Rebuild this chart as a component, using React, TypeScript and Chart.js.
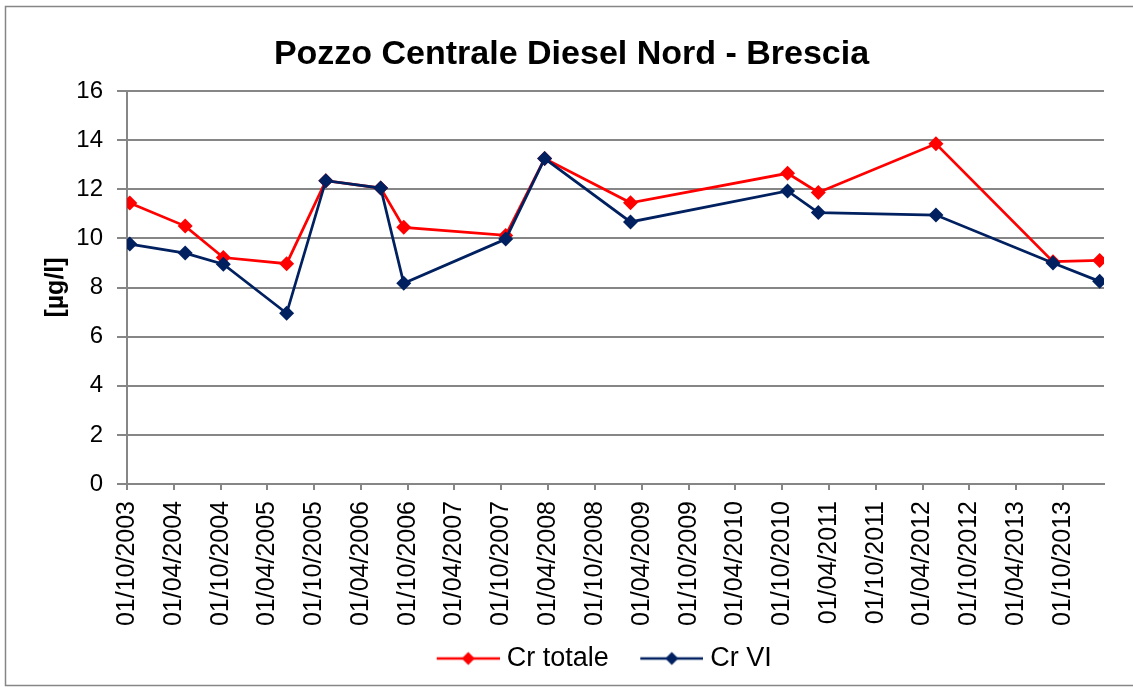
import React, { useEffect, useRef } from "react";
import { Chart, registerables } from "chart.js";

Chart.register(...registerables);

const TITLE = "Pozzo Centrale Diesel Nord - Brescia";
const Y_TITLE = "[µg/l]";

const SAMPLE_DATES = [
  "12/10/2003", "15/05/2004", "11/10/2004", "15/06/2005", "15/11/2005",
  "17/06/2006", "15/09/2006", "18/10/2007", "18/03/2008", "16/02/2009",
  "22/10/2010", "19/02/2011", "23/05/2012", "23/08/2013", "21/02/2014",
];
const CR_TOTALE = [11.44, 10.5, 9.22, 8.97, 12.35, 12.05, 10.45, 10.12, 13.25, 11.45, 12.65, 11.87, 13.85, 9.05, 9.1];
const CR_VI = [9.77, 9.4, 8.95, 6.95, 12.35, 12.05, 8.17, 9.97, 13.25, 10.67, 11.93, 11.05, 10.95, 9.0, 8.25];

const TICK_LABELS = [
  "01/10/2003", "01/04/2004", "01/10/2004", "01/04/2005", "01/10/2005",
  "01/04/2006", "01/10/2006", "01/04/2007", "01/10/2007", "01/04/2008",
  "01/10/2008", "01/04/2009", "01/10/2009", "01/04/2010", "01/10/2010",
  "01/04/2011", "01/10/2011", "01/04/2012", "01/10/2012", "01/04/2013",
  "01/10/2013",
];
const AXIS_START = "01/10/2003";
const AXIS_END = "10/03/2014";

const SERIES_NAMES = ["Cr totale", "Cr VI"];
const SERIES_COLORS = ["#FF0000", "#002060"];

function toDays(s: string): number {
  const [d, m, y] = s.split("/").map(Number);
  const [d0, m0, y0] = AXIS_START.split("/").map(Number);
  return (Date.UTC(y, m - 1, d) - Date.UTC(y0, m0 - 1, d0)) / 86400000;
}

// legend symbol: line with a diamond marker; transparent margin on the left
function legendImage(color: string): HTMLCanvasElement {
  const c = document.createElement("canvas");
  c.width = 85;
  c.height = 16;
  const ctx = c.getContext("2d")!;
  const x0 = 22;
  ctx.strokeStyle = color;
  ctx.lineWidth = 2.5;
  ctx.beginPath();
  ctx.moveTo(x0, 8);
  ctx.lineTo(85, 8);
  ctx.stroke();
  ctx.fillStyle = color;
  const cx = x0 + 31.5;
  ctx.beginPath();
  ctx.moveTo(cx, 1.5);
  ctx.lineTo(cx + 6.5, 8);
  ctx.lineTo(cx, 14.5);
  ctx.lineTo(cx - 6.5, 8);
  ctx.closePath();
  ctx.fill();
  return c;
}

const borderPlugin = {
  id: "outerBorder",
  beforeDraw(chart: any) {
    const ctx = chart.ctx;
    ctx.save();
    ctx.fillStyle = "#ffffff";
    ctx.fillRect(0, 0, chart.width, chart.height);
    ctx.strokeStyle = "#868686";
    ctx.lineWidth = 1.5;
    ctx.strokeRect(5.5, 6.5, chart.width + 10, 679);
    ctx.restore();
  },
};

const shiftPlugin = {
  id: "shiftBlocks",
  afterLayout(chart: any) {
    if (chart.titleBlock) {
      chart.titleBlock.left += 19.5;
      chart.titleBlock.right += 19.5;
    }
    if (chart.legend) {
      chart.legend.left -= 19;
      chart.legend.right -= 19;
    }
  },
};

export default function App() {
  const ref = useRef<HTMLCanvasElement>(null);

  useEffect(() => {
    if (!ref.current) return;
    const FONT = "'Liberation Sans', Arial, sans-serif";
    Chart.defaults.font.family = FONT;
    Chart.defaults.color = "#000000";
    const seriesValues = [CR_TOTALE, CR_VI];
    const images = SERIES_COLORS.map(legendImage);
    const tickDays = TICK_LABELS.map(toDays);

    const chart = new Chart(ref.current, {
      type: "line",
      data: {
        datasets: SERIES_NAMES.map((name, i) => ({
          label: name,
          data: SAMPLE_DATES.map((d, j) => ({ x: toDays(d), y: seriesValues[i][j] })),
          borderColor: SERIES_COLORS[i],
          backgroundColor: SERIES_COLORS[i],
          borderWidth: 2.75,
          tension: 0,
          pointStyle: "rectRot",
          pointRadius: 7.5,
          pointBorderWidth: 0,
          pointBackgroundColor: SERIES_COLORS[i],
          order: -i,
        })),
      },
      options: {
        responsive: false,
        animation: false,
        layout: { padding: { top: 20, left: 0, right: 29, bottom: 5 } },
        plugins: {
          tooltip: { enabled: false },
          title: {
            display: true,
            text: TITLE,
            font: { size: 34, weight: "bold", family: FONT },
            color: "#000000",
            padding: { top: 14, bottom: 16.2 },
          },
          legend: {
            display: true,
            position: "bottom",
            fullSize: false,
            labels: {
              font: { size: 27, family: FONT },
              color: "#000000",
              usePointStyle: true,
              pointStyleWidth: 72,
              padding: 16,
              generateLabels: () =>
                SERIES_NAMES.map((name, i) => ({
                  text: name,
                  fillStyle: SERIES_COLORS[i],
                  strokeStyle: SERIES_COLORS[i],
                  lineWidth: 0,
                  pointStyle: images[i] as any,
                  hidden: false,
                  datasetIndex: i,
                })),
            },
          },
        },
        scales: {
          x: {
            type: "linear",
            min: toDays(AXIS_START),
            max: toDays(AXIS_END),
            afterBuildTicks: (scale: any) => {
              scale.ticks = tickDays.map((v) => ({ value: v }));
            },
            afterFit: (scale: any) => {
              scale.height = 145;
            },
            ticks: {
              autoSkip: false,
              minRotation: 90,
              maxRotation: 90,
              padding: 11,
              font: { size: 25, family: FONT },
              color: "#000000",
              callback: (_v: any, index: number) => TICK_LABELS[index],
            },
            grid: {
              drawOnChartArea: false,
              drawTicks: true,
              tickLength: 6,
              color: "#868686",
              lineWidth: 2,
            },
            border: { display: true, color: "#868686", width: 2 },
          },
          y: {
            min: 0,
            max: 16,
            afterFit: (scale: any) => {
              scale.width = 127;
            },
            ticks: {
              stepSize: 2,
              padding: 14,
              font: { size: 24, family: FONT },
              color: "#000000",
            },
            grid: {
              color: "#868686",
              lineWidth: 2,
              tickLength: 10,
              drawTicks: true,
            },
            border: { display: true, color: "#868686", width: 2 },
            title: {
              display: true,
              text: Y_TITLE,
              font: { size: 25, weight: "bold", family: FONT },
              color: "#000000",
              padding: { top: 41, bottom: 0 },
            },
          },
        },
      },
      plugins: [borderPlugin, shiftPlugin],
    });
    return () => chart.destroy();
  }, []);

  return (
    <div style={{ position: "absolute", left: 0, top: 0, width: 1133, height: 687 }}>
      <canvas ref={ref} width={1133} height={687} />
    </div>
  );
}
